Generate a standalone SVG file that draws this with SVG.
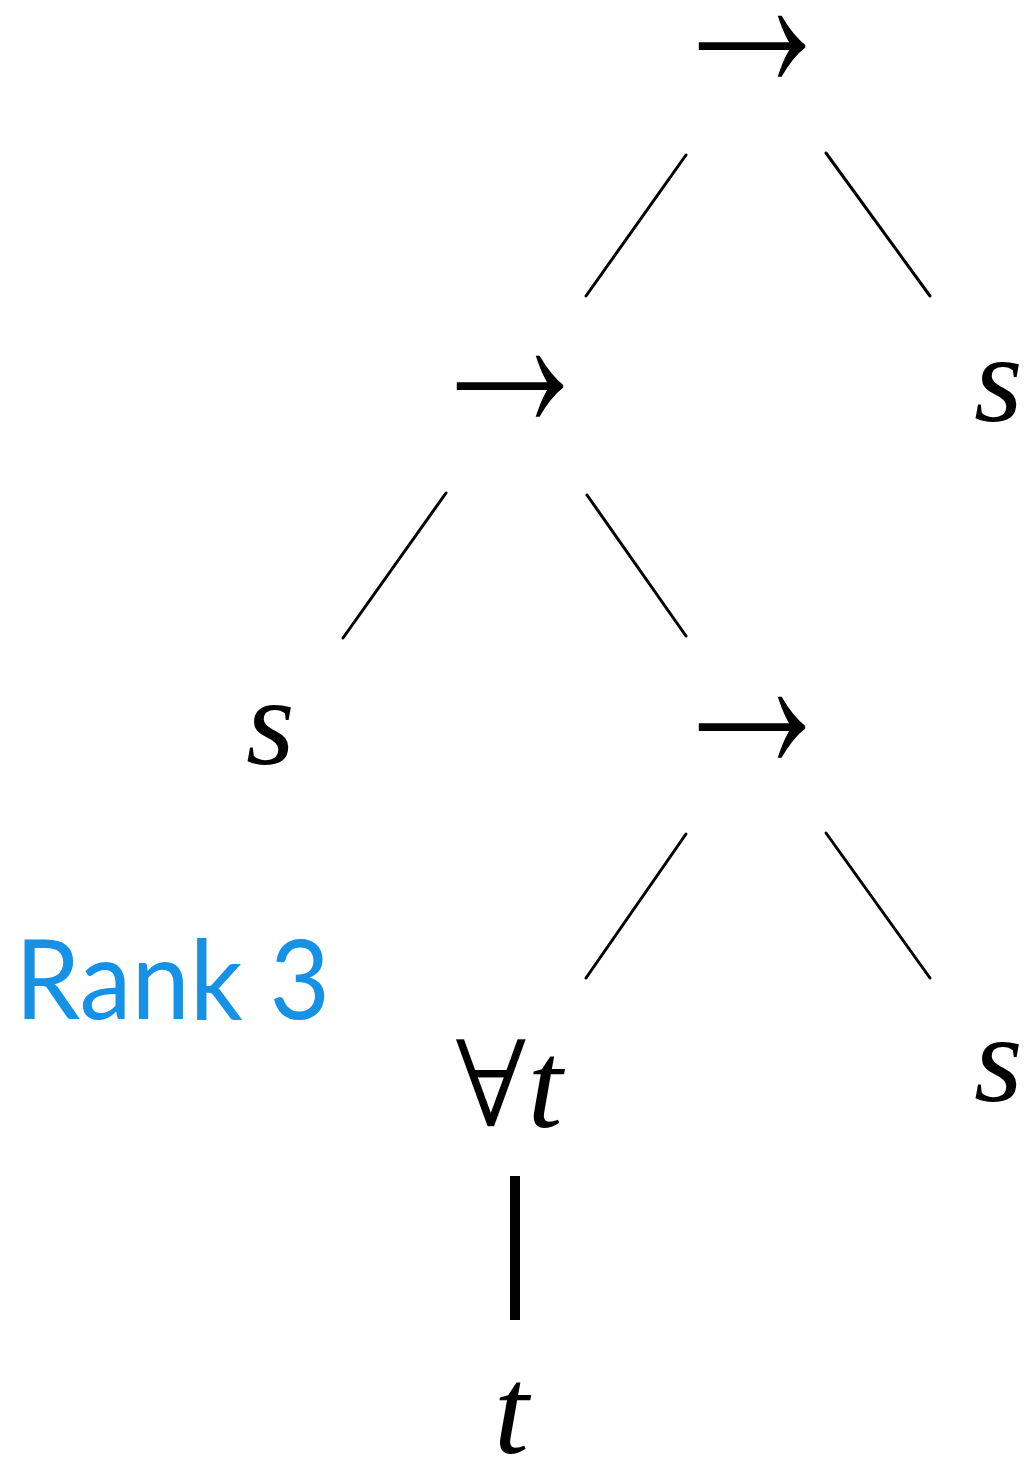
<svg xmlns="http://www.w3.org/2000/svg" width="1031" height="1464" viewBox="0 0 1031 1464">
<style>
.var{font-family:"Liberation Serif","DejaVu Serif",serif;font-style:italic;font-size:125px;fill:#000}
.op{font-family:"Liberation Serif","DejaVu Serif",serif;font-size:184px;fill:#000;stroke:#fff;stroke-width:2.5}
.fa{font-family:"DejaVu Serif",serif;font-size:122px;fill:#000;stroke:#fff;stroke-width:2}
.edge{stroke:#000;stroke-width:3;fill:none;stroke-linecap:round}
.label{font-family:Lato,"Open Sans",sans-serif;font-size:110px;fill:#1592E6}
</style>
<rect width="1031" height="1464" fill="#fff"/>
<g id="connectors">
<line class="edge" x1="686" y1="155" x2="586" y2="296"/>
<line class="edge" x1="826" y1="153" x2="930" y2="296"/>
<line class="edge" x1="446" y1="493" x2="343" y2="638"/>
<line class="edge" x1="587" y1="495" x2="686" y2="636"/>
<line class="edge" x1="686" y1="834" x2="586" y2="978"/>
<line class="edge" x1="826" y1="833" x2="930" y2="978"/>
<line x1="515" y1="1176" x2="515" y2="1320" stroke="#000" stroke-width="10"/>
</g>
<g id="node-root"><text class="op" transform="translate(660,92) scale(1,1.5)">→</text></g>
<g id="node-arrow2"><text class="op" transform="translate(418,432) scale(1,1.5)">→</text></g>
<g id="node-arrow3"><text class="op" transform="translate(660,773) scale(1,1.5)">→</text></g>
<g id="node-s-right1"><text class="var" x="974" y="421">s</text></g>
<g id="node-s-left"><text class="var" x="246" y="764">s</text></g>
<g id="node-s-right2"><text class="var" x="974" y="1101">s</text></g>
<g id="node-forall-t"><text x="454" y="1127"><tspan class="fa">∀</tspan><tspan class="var">t</tspan></text></g>
<g id="node-t"><text class="var" x="494" y="1453">t</text></g>
<g id="label-rank"><text class="label" x="15" y="1019" textLength="315" lengthAdjust="spacingAndGlyphs">Rank 3</text></g>
</svg>
